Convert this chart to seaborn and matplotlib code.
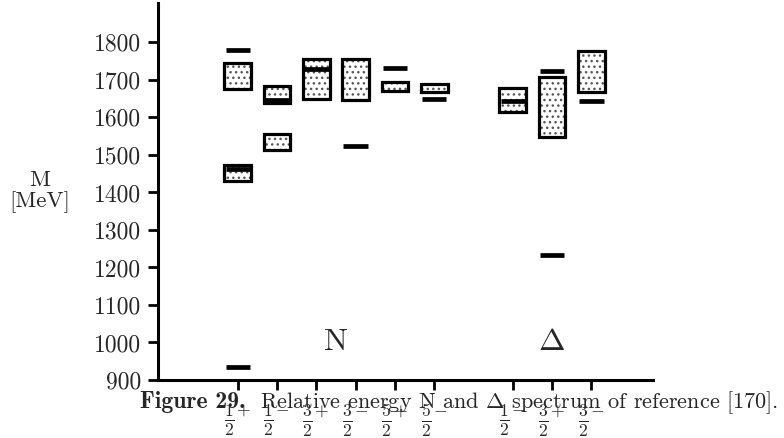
import matplotlib
matplotlib.use("Agg")
import matplotlib.pyplot as plt
import seaborn as sns

# ---------------- data ----------------
x_positions = [1, 2, 3, 4, 5, 6, 8, 9, 10]
x_labels = [r"$\frac{1}{2}^{+}$", r"$\frac{1}{2}^{-}$", r"$\frac{3}{2}^{+}$",
            r"$\frac{3}{2}^{-}$", r"$\frac{5}{2}^{+}$", r"$\frac{5}{2}^{-}$",
            r"$\frac{1}{2}^{-}$", r"$\frac{3}{2}^{+}$", r"$\frac{3}{2}^{-}$"]
y_ticks = [900, 1000, 1100, 1200, 1300, 1400, 1500, 1600, 1700, 1800]

# experimental ranges (dotted boxes)
box_pos = [1, 1, 2, 2, 3, 4, 5, 6, 8, 9, 10]
box_low = [1430, 1676, 1514, 1638, 1649, 1646, 1671, 1667, 1614, 1547, 1669]
box_high = [1472, 1746, 1557, 1684, 1757, 1755, 1694, 1690, 1678, 1708, 1776]

# calculated levels (black bars)
level_pos = [1, 1, 1, 2, 3, 4, 5, 6, 8, 9, 9, 10]
level_mass = [935, 1463, 1779, 1646, 1730, 1523, 1732, 1650, 1643, 1723, 1234, 1643]

group_names = ["N", r"$\Delta$"]
group_x = [3.5, 9]
group_y = [1000, 1000]

# ---------------- style ----------------
sns.set_theme(style="ticks")
plt.rcParams["font.family"] = ["cmr10", "Liberation Serif", "DejaVu Serif"]
plt.rcParams["mathtext.fontset"] = "cm"
plt.rcParams["hatch.linewidth"] = 1.0
plt.rcParams["axes.unicode_minus"] = False

fig = plt.figure(figsize=(7.84, 4.38), dpi=100)
ax = fig.add_axes([158 / 784, 58 / 438, (653 - 158) / 784, 377 / 438])

heights = [h - l for l, h in zip(box_low, box_high)]
ax.bar(box_pos, heights, bottom=box_low, width=0.68, color="white",
       edgecolor="#555555", hatch="...", linewidth=0, zorder=2)
ax.bar(box_pos, heights, bottom=box_low, width=0.68, fill=False,
       edgecolor="black", linewidth=2.3, zorder=3)

half = 0.31
ax.hlines(level_mass, [p - half for p in level_pos], [p + half for p in level_pos],
          colors="black", linewidth=3.4, zorder=4)

for name, gx, gy in zip(group_names, group_x, group_y):
    ax.text(gx, gy, name, fontsize=23, ha="center", va="center")

ax.set_xlim(-1.03, 11.57)
ax.set_ylim(900, 1905)
ax.set_xticks(x_positions)
ax.set_xticklabels(x_labels, fontsize=18)
ax.set_yticks(y_ticks)
ax.set_yticklabels([str(v) for v in y_ticks], fontsize=17)
ax.tick_params(axis="both", direction="out", length=7, width=2, color="black")
ax.tick_params(axis="x", pad=9)
ax.tick_params(axis="y", pad=5)
sns.despine(ax=ax, top=True, right=True)
for s in ["left", "bottom"]:
    ax.spines[s].set_linewidth(2.2)
    ax.spines[s].set_color("black")
ax.set_facecolor("white")
ax.grid(False)

fig.text(40 / 784, 1 - 180 / 438, "M", fontsize=16.5, ha="center", va="center")
fig.text(40 / 784, 1 - 202 / 438, "[MeV]", fontsize=16.5, ha="center", va="center")

# caption
cap_y = (438 - 408) / 438
fig.text(245 / 784, cap_y, "Figure 29.", fontsize=17, family="cmb10",
         va="baseline", ha="right")
fig.text(260 / 784, cap_y,
         r"Relative energy N and $\Delta$ spectrum of reference [170].",
         fontsize=16, va="baseline", ha="left")

fig.savefig("out.png", dpi=100, facecolor="white")
